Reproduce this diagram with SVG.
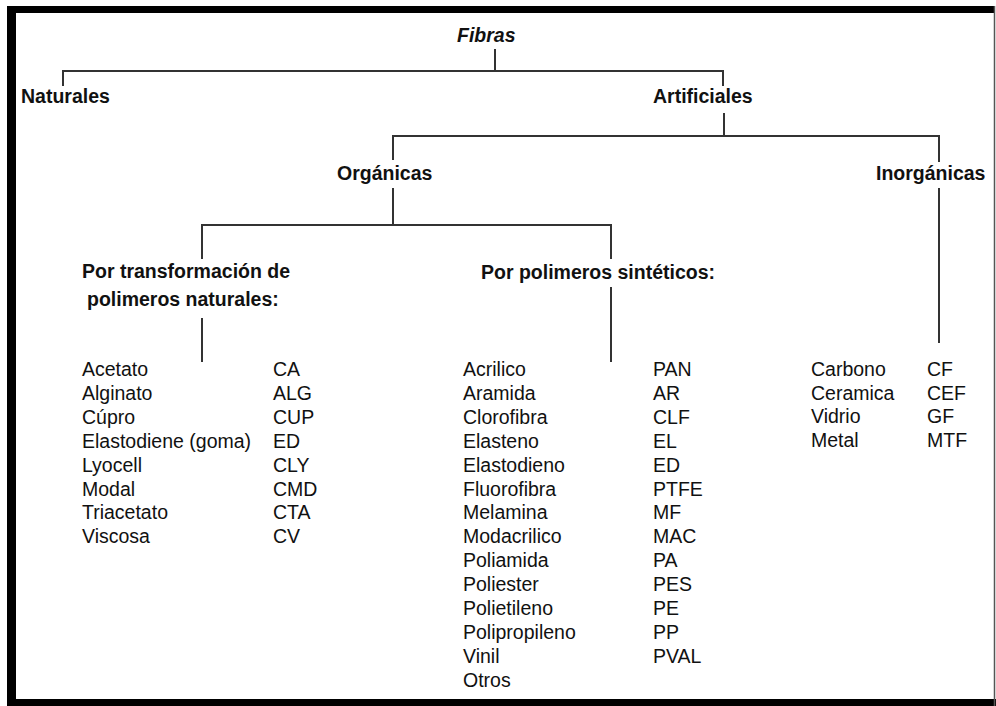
<svg xmlns="http://www.w3.org/2000/svg" width="996" height="706" viewBox="0 0 996 706">
<style>
.h{font-family:"Liberation Sans",Arial,sans-serif;font-weight:bold;font-size:19.5px;fill:#111}
.hi{font-style:italic}
.t{font-family:"Liberation Sans",Arial,sans-serif;font-size:19.5px;fill:#111}
.c{stroke:#333;stroke-width:2;fill:none}
</style>
<rect width="996" height="706" fill="#fff"/>
<g id="frame">
<rect x="7" y="6" width="988" height="7" fill="#000"/>
<rect x="7" y="6" width="9" height="700" fill="#000"/>
<rect x="7" y="699" width="989" height="7" fill="#000"/>
<line x1="994.5" y1="6" x2="994.5" y2="706" stroke="#555" stroke-width="1.5"/>
</g>
<g id="connectors">
<path class="c" d="M495,49V71M63,86V71H723V86"/>
<path class="c" d="M724,113V136M393,160V136H939V162M939,188V343"/>
<path class="c" d="M393,188V225M202,259V225H611V259M202,318V362M611,287V362"/>
</g>
<g id="fibras"><text class="h hi" x="457" y="42">Fibras</text></g>
<g id="naturales"><text class="h" x="21" y="103">Naturales</text></g>
<g id="artificiales"><text class="h" x="653" y="103">Artificiales</text></g>
<g id="organicas"><text class="h" x="337" y="180">Orgánicas</text></g>
<g id="inorganicas"><text class="h" x="876" y="180">Inorgánicas</text></g>
<g id="transformacion">
<text class="h" x="82" y="278">Por transformación de</text>
<text class="h" x="87" y="306">polimeros naturales:</text>
<text class="t" x="82" y="376">Acetato</text>
<text class="t" x="82" y="399.9">Alginato</text>
<text class="t" x="82" y="423.8">Cúpro</text>
<text class="t" x="82" y="447.7">Elastodiene (goma)</text>
<text class="t" x="82" y="471.6">Lyocell</text>
<text class="t" x="82" y="495.5">Modal</text>
<text class="t" x="82" y="519.4">Triacetato</text>
<text class="t" x="82" y="543.3">Viscosa</text>
<text class="t" x="273" y="376">CA</text>
<text class="t" x="273" y="399.9">ALG</text>
<text class="t" x="273" y="423.8">CUP</text>
<text class="t" x="273" y="447.7">ED</text>
<text class="t" x="273" y="471.6">CLY</text>
<text class="t" x="273" y="495.5">CMD</text>
<text class="t" x="273" y="519.4">CTA</text>
<text class="t" x="273" y="543.3">CV</text>
</g>
<g id="sinteticos">
<text class="h" x="481" y="279">Por polimeros sintéticos:</text>
<text class="t" x="463" y="376">Acrilico</text>
<text class="t" x="463" y="399.9">Aramida</text>
<text class="t" x="463" y="423.8">Clorofibra</text>
<text class="t" x="463" y="447.7">Elasteno</text>
<text class="t" x="463" y="471.6">Elastodieno</text>
<text class="t" x="463" y="495.5">Fluorofibra</text>
<text class="t" x="463" y="519.4">Melamina</text>
<text class="t" x="463" y="543.3">Modacrilico</text>
<text class="t" x="463" y="567.2">Poliamida</text>
<text class="t" x="463" y="591.1">Poliester</text>
<text class="t" x="463" y="615">Polietileno</text>
<text class="t" x="463" y="638.9">Polipropileno</text>
<text class="t" x="463" y="662.8">Vinil</text>
<text class="t" x="463" y="686.7">Otros</text>
<text class="t" x="653" y="376">PAN</text>
<text class="t" x="653" y="399.9">AR</text>
<text class="t" x="653" y="423.8">CLF</text>
<text class="t" x="653" y="447.7">EL</text>
<text class="t" x="653" y="471.6">ED</text>
<text class="t" x="653" y="495.5">PTFE</text>
<text class="t" x="653" y="519.4">MF</text>
<text class="t" x="653" y="543.3">MAC</text>
<text class="t" x="653" y="567.2">PA</text>
<text class="t" x="653" y="591.1">PES</text>
<text class="t" x="653" y="615">PE</text>
<text class="t" x="653" y="638.9">PP</text>
<text class="t" x="653" y="662.8">PVAL</text>
</g>
<g id="inorganicas-lista">
<text class="t" x="811" y="376">Carbono</text>
<text class="t" x="811" y="399.5">Ceramica</text>
<text class="t" x="811" y="423">Vidrio</text>
<text class="t" x="811" y="446.5">Metal</text>
<text class="t" x="927" y="376">CF</text>
<text class="t" x="927" y="399.5">CEF</text>
<text class="t" x="927" y="423">GF</text>
<text class="t" x="927" y="446.5">MTF</text>
</g>
</svg>
